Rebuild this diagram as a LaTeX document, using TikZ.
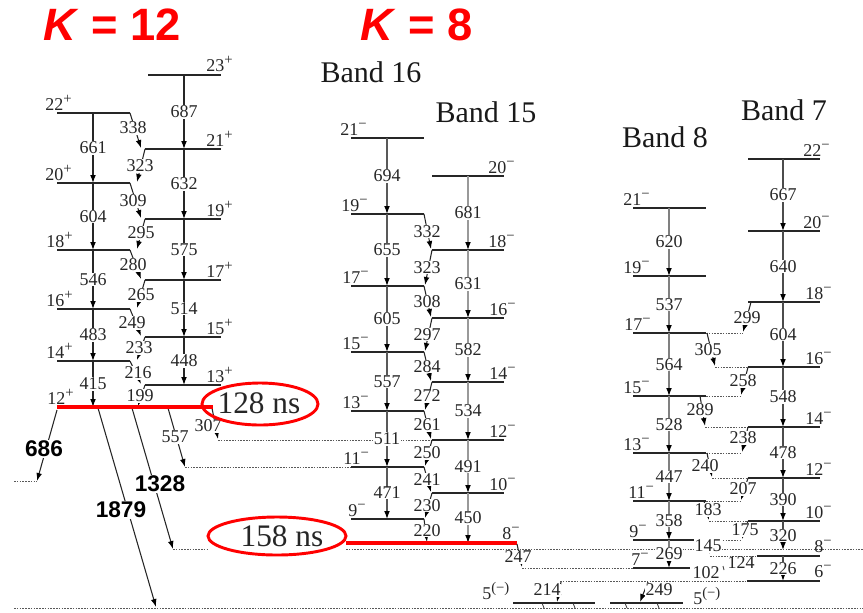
\documentclass[tikz,border=0pt]{standalone}
\usepackage{fontspec}
\setmainfont{Liberation Serif}
\newfontfamily\sansb{Liberation Sans}
\usetikzlibrary{arrows.meta}
\newcommand{\pl}{\raisebox{0.38em}{\fontsize{11}{10}\selectfont +}}
\newcommand{\mi}{\raisebox{0.38em}{\fontsize{11}{10}\selectfont −}}
\begin{document}
\begin{tikzpicture}[x=0.75pt,y=-0.75pt,
  lv/.style={line width=1.1pt, draw=black!85},
  tp/.style={-{Latex[length=6pt,width=4.3pt,color=black]}},
  tr/.style={line width=0.8pt, draw=black!85, tp},
  dt/.style={line width=0.65pt, draw=black!65, dash pattern=on 1.2pt off 0.9pt},
  fs/.style={font=\fontsize{13.5}{14}\selectfont, text=black!85},
  lab/.style={fs, fill=white, inner sep=0.4pt},
  sl/.style={fs, anchor=base west, inner sep=0pt},
  sr/.style={fs, anchor=base east, inner sep=0pt},
  band/.style={font=\fontsize{22.5}{24}\selectfont, text=black!90, inner sep=0pt},
  bigk/.style={font=\sansb\bfseries\fontsize{34}{36}\selectfont, text=red, inner sep=0pt},
  boldl/.style={font=\sansb\bfseries\fontsize{17}{18}\selectfont, fill=white, inner sep=0.5pt},
  ns/.style={font=\fontsize{23.5}{25}\selectfont, text=black!85, inner sep=0pt},
  redl/.style={red, line width=3pt},
  ell/.style={red, line width=2.2pt}
]
\useasboundingbox (0,0) rectangle (863,612);

% ---------- titles ----------
\node[bigk] (k12) at (112,25) {\textit{K} = 12};
\node[bigk] (k8) at (417,25) {\textit{K} = 8};
\node[band] (b16) at (371,72) {Band 16};
\node[band] (b15) at (486,112) {Band 15};
\node[band] (b8) at (665,137) {Band 8};
\node[band] (b7) at (784,110) {Band 7};

% ---------- dotted lines ----------
\draw[dt] (14,481) -- (37,481);
\draw[dt] (218,440) -- (432,440);
\draw[dt] (185,467) -- (351,467);
\draw[dt] (173,549) -- (208,549);
\draw[dt] (346,549) -- (863,549);
\draw[dt] (522,568) -- (633,568);
\draw[dt] (560,581) -- (747,581);
\draw[dt] (14,608) -- (863,608);

% ---------- K = 12 band ----------
\foreach \y in {113,183,250,309,361} \draw[lv] (57,\y) -- (130,\y);
\draw[lv] (148,75) -- (221,75);
\foreach \y in {149,219,280,337,385} \draw[lv] (145,\y) -- (221,\y);

\foreach \x/\ya/\yb/\e in {93/113/183/661, 93/183/250/604, 93/250/309/546, 93/309/361/483, 93/361/407/415,
  184/75/149/687, 184/149/219/632, 184/219/280/575, 184/280/337/514, 184/337/385/448}{
  \draw[tr] (\x,\ya) -- (\x,\yb);
  \node[lab] (ka\e) at (\x,{(\ya+\yb)/2}) {\e};
}
\foreach \xa/\ya/\xb/\yb/\lx/\ly/\e in {130/113/141/148/133/128/338, 145/149/137/182/140/166/323,
  130/183/141/218/133/201/309, 145/219/137/249/141/233/295, 130/250/141/279/133/265/280,
  145/280/137/308/141/295/265, 130/309/141/336/132/323/249, 145/337/137/360/139/348/233,
  130/361/141/384/138/373/216, 145/385/138/406/140/396/199}{
  \draw[tr] (\xa,\ya) -- (\xb,\yb);
  \node[lab] (kc\e) at (\lx,\ly) {\e};
}
% spins
\node[sl] (s22) at (45,110) {22\pl};
\node[sl] (s20) at (45,180) {20\pl};
\node[sl] (s18) at (46,247) {18\pl};
\node[sl] (s16) at (46,306) {16\pl};
\node[sl] (s14) at (46,358) {14\pl};
\node[sl] (s12) at (47,404) {12\pl};
\node[sr] (s23) at (233,71) {23\pl};
\node[sr] (s21) at (233,146) {21\pl};
\node[sr] (s19) at (233,216) {19\pl};
\node[sr] (s17) at (233,277) {17\pl};
\node[sr] (s15) at (233,334) {15\pl};
\node[sr] (s13) at (233,382) {13\pl};

% decays out of 12+
\draw[tr] (57,410) -- (37,481);
\node[boldl] (d686) at (44,449) {686};
\draw[tr] (98,408) -- (156,607);
\node[boldl] (d1879) at (121,510) {1879};
\draw[tr] (132,408) -- (173,549);
\node[boldl] (d1328) at (160,484) {1328};
\draw[tr] (168,408) -- (185,467);
\node[lab] (d557) at (175,437) {557};
\draw[tr] (212,408) -- (218,439);
\node[lab] (d307) at (208,426) {307};
\draw[redl] (57,407) -- (213,407);
\draw[ell] (260,404) ellipse [x radius=43.5pt, y radius=15.75pt];
\node[ns] (t128) at (259,403) {128 ns};

% ---------- Band 16 ----------
\foreach \y in {138,214,286,352,411,467,519} \draw[lv] (351,\y) -- (424,\y);
\foreach \ya/\yb/\e in {138/214/694, 214/286/655, 286/352/605, 352/411/557, 411/467/511, 467/519/471}{
  \draw[tr, draw=black!65] (387,\ya) -- (387,\yb);
  \node[lab] (bs\e) at (387,{(\ya+\yb)/2}) {\e};
}
\node[sl] (m21) at (340,135) {21\mi};
\node[sl] (m19) at (341,211) {19\mi};
\node[sl] (m17) at (342,283) {17\mi};
\node[sl] (m15) at (342,349) {15\mi};
\node[sl] (m13) at (342,408) {13\mi};
\node[sl] (m11) at (343,464) {11\mi};
\node[sl] (m9) at (348,516) {9\mi};

% ---------- Band 15 ----------
\foreach \y in {176,250,318,382,440,493} \draw[lv] (432,\y) -- (504,\y);
\foreach \ya/\yb/\e in {176/250/681, 250/318/631, 318/382/582, 382/440/534, 440/493/491, 493/543/450}{
  \draw[tr, draw=black!40] (468,\ya) -- (468,\yb);
  \node[lab] (bf\e) at (468,{(\ya+\yb)/2}) {\e};
}
\foreach \xa/\ya/\xb/\yb/\e in {424/214/431/249/332, 432/250/425/285/323, 424/286/431/317/308,
  432/318/425/351/297, 424/352/431/381/284, 432/382/425/410/272, 424/411/431/439/261,
  432/440/425/466/250, 424/467/431/492/241, 432/493/425/518/230, 424/519/427/542/220}{
  \draw[tr] (\xa,\ya) -- (\xb,\yb);
  \node[lab] (bc\e) at (427,{(\ya+\yb)/2}) {\e};
}
\node[sr] (p20) at (515,173) {20\mi};
\node[sr] (p18) at (515,247) {18\mi};
\node[sr] (p16) at (516,315) {16\mi};
\node[sr] (p14) at (516,379) {14\mi};
\node[sr] (p12) at (516,437) {12\mi};
\node[sr] (p10) at (516,490) {10\mi};
\node[sr] (p8) at (520,539) {8\mi};

\draw[redl] (346,543) -- (517,543);
\draw[ell] (277,536) ellipse [x radius=51.75pt, y radius=14.25pt];
\node[ns] (t158) at (282,536) {158 ns};

% 247 out of 8-
\draw[tr] (517,544) -- (522,567);
\node[lab] (c247) at (518,557) {247};

% ---------- Band 8 ----------
\foreach \y in {208,276,333,396,453,501,540} \draw[lv] (633,\y) -- (706,\y);
\draw[lv] (633,568) -- (690,568);
\foreach \ya/\yb/\e in {208/276/620, 276/333/537, 333/396/564, 396/453/528, 453/501/447, 501/540/358, 540/568/269}{
  \draw[tr, draw=black!50] (669,\ya) -- (669,\yb);
  \node[lab] (be\e) at (669,{(\ya+\yb)/2}) {\e};
}
\node[sl] (e21) at (623,205) {21\mi};
\node[sl] (e19) at (623,273) {19\mi};
\node[sl] (e17) at (624,330) {17\mi};
\node[sl] (e15) at (623,393) {15\mi};
\node[sl] (e13) at (623,450) {13\mi};
\node[sl] (e11) at (628,498) {11\mi};
\node[sl] (e9) at (629,537) {9\mi};
\node[sl] (e7) at (631,565) {7\mi};

% ---------- Band 7 ----------
\foreach \y in {159,231,302,367,427,478,521} \draw[lv] (748,\y) -- (820,\y);
\draw[lv] (757,556) -- (820,556);
\draw[lv] (747,581) -- (820,581);
\foreach \ya/\yb/\e in {159/231/667, 231/302/640, 302/367/604, 367/427/548, 427/478/478, 478/521/390, 521/550/320, 556/581/226}{
  \draw[tr, draw=black!70] (783,\ya) -- (783,\yb);
  \node[lab] (bv\e) at (783,{(\ya+\yb)/2}) {\e};
}
\node[sr] (f22) at (830,156) {22\mi};
\node[sr] (f20) at (830,228) {20\mi};
\node[sr] (f18) at (832,299) {18\mi};
\node[sr] (f16) at (832,364) {16\mi};
\node[sr] (f14) at (832,424) {14\mi};
\node[sr] (f12) at (832,475) {12\mi};
\node[sr] (f10) at (832,518) {10\mi};
\node[sr] (f8) at (832,552) {8\mi};
\node[sr] (f6) at (832,577) {6\mi};

% crossovers band 8 <-> band 7
\foreach \xa/\ya/\xb/\yb/\lx/\ly/\e/\da/\db/\dy in {
  751/302/743/332/747/318/299/706/743/333,
  707/333/715/366/708/350/305/715/748/367,
  748/367/741/395/743/381/258/706/741/396,
  700/396/705/426/700/410/289/705/748/427,
  748/427/742/452/743/438/238/706/742/453,
  707/453/712/477/705/466/240/712/748/478,
  748/478/741/500/743/489/207/706/741/501,
  704/501/709/520/708/510/183/709/748/521,
  748/521/742/539/745/530/175/706/742/540,
  706/540/710/554/708/546/145/710/757/556}{
  \draw[dt] (\da,\dy) -- (\db,\dy);
  \draw[tr] (\xa,\ya) -- (\xb,\yb);
  \node[lab] (x\e) at (\lx,\ly) {\e};
}
\node[lab] (x124) at (741,563) {124};
\node[lab] (x102) at (706,573) {102};
\draw[line width=0.7pt, black!70] (723,566) -- (724,570);

% ---------- bottom ----------
\draw[lv] (513,603) -- (595,603);
\draw[lv] (610,603) -- (683,603);
\foreach \x in {542,573,625,657} \draw[line width=0.6pt, black!80] (\x,603) -- (\x+2,608);
\draw[tr] (561,582) -- (557,602);
\node[lab] (x214) at (547,590) {214};
\draw[tr] (648,582) -- (640,602);
\node[lab] (x249) at (659,590) {249};
\node[sl] (g5a) at (482,599) {5\raisebox{0.38em}{\fontsize{11}{10}\selectfont (−)}};
\node[sl] (g5b) at (693,604) {5\raisebox{0.38em}{\fontsize{11}{10}\selectfont (−)}};
\end{tikzpicture}
\end{document}
